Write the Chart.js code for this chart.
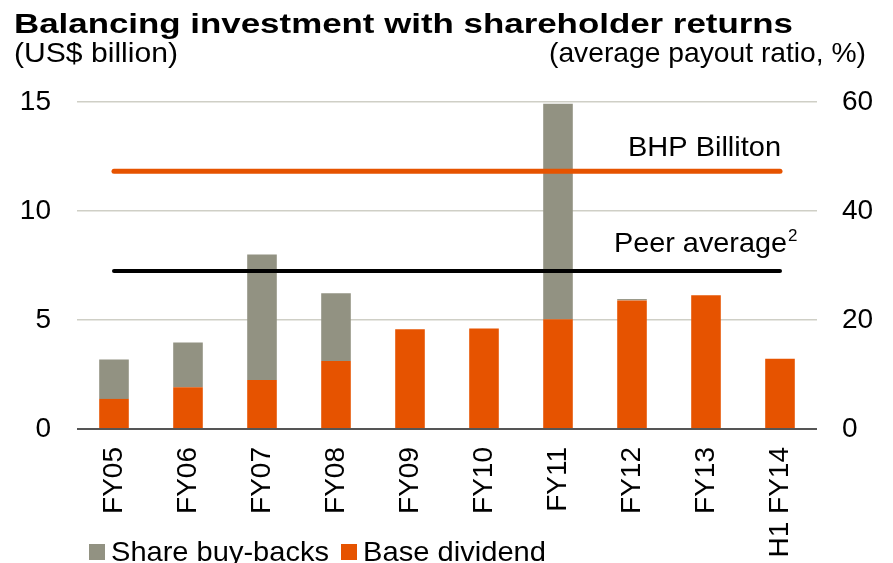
<!DOCTYPE html>
<html>
<head>
<meta charset="utf-8">
<script src="https://cdn.jsdelivr.net/npm/chart.js@4.4.1/dist/chart.umd.min.js"></script>
<style>
  html, body { margin: 0; padding: 0; background: #fff; }
  #wrap { width: 893px; height: 563px; position: relative; }
</style>
</head>
<body>
<div id="wrap"><canvas id="chart" width="893" height="563"></canvas></div>
<script>
// data
const categories = ['FY05', 'FY06', 'FY07', 'FY08', 'FY09', 'FY10', 'FY11', 'FY12', 'FY13', 'H1 FY14'];
const baseDividend = [1.38, 1.92, 2.25, 3.12, 4.57, 4.61, 5.04, 5.90, 6.14, 3.22];
const buyBacks = [1.81, 2.05, 5.76, 3.11, 0, 0, 9.88, 0.06, 0, 0];
const bhpPayout = [47.3, 47.3, 47.3, 47.3, 47.3, 47.3, 47.3, 47.3, 47.3, 47.3];
const peerPayout = [29.0, 29.0, 29.0, 29.0, 29.0, 29.0, 29.0, 29.0, 29.0, 29.0];
const leftTicks = [0, 5, 10, 15];
const rightTicks = [0, 20, 40, 60];

const ORANGE = '#e65300';
const GREY = '#929282';
const FONT = '"Liberation Sans", Arial, sans-serif';

// the source picture is a little stretched sideways, so texts are squeezed to its widths
function fitText(ctx, text, x, y, width, align) {
    const w = ctx.measureText(text).width;
    const sx = width / w;
    ctx.save();
    ctx.translate(align === 'right' ? x - width : x, y);
    ctx.scale(sx, 1);
    ctx.textAlign = 'left';
    ctx.fillText(text, 0, 0);
    ctx.restore();
}

// title, unit captions, line labels and legend
const textPlugin = {
    id: 'texts',
    afterDraw(chart) {
        const ctx = chart.ctx;
        const x = chart.scales.x;
        const y2 = chart.scales.y2;
        ctx.save();
        ctx.fillStyle = '#000';
        ctx.textBaseline = 'alphabetic';

        ctx.font = 'bold 27px ' + FONT;
        fitText(ctx, 'Balancing investment with shareholder returns', 14, 33, 779, 'left');

        ctx.font = '28px ' + FONT;
        fitText(ctx, '(US$ billion)', 14, 62, 164, 'left');
        fitText(ctx, '(average payout ratio, %)', 866, 62, 317, 'right');

        // labels above the payout lines
        const xEnd = x.getPixelForValue(categories.length - 1);
        fitText(ctx, 'BHP Billiton', xEnd + 1, y2.getPixelForValue(bhpPayout[0]) - 15, 153, 'right');
        const peerY = y2.getPixelForValue(peerPayout[0]) - 19;
        ctx.font = '17px ' + FONT;
        ctx.textAlign = 'left';
        ctx.fillText('2', xEnd + 8, peerY - 11);
        ctx.font = '28px ' + FONT;
        fitText(ctx, 'Peer average', xEnd + 7, peerY, 173, 'right');

        // legend
        const items = [
            { label: 'Share buy-backs', color: GREY, x: 89, w: 218 },
            { label: 'Base dividend', color: ORANGE, x: 341, w: 183 }
        ];
        items.forEach(it => {
            ctx.fillStyle = it.color;
            ctx.fillRect(it.x, 544, 16, 16);
            ctx.fillStyle = '#000';
            fitText(ctx, it.label, it.x + 22, 561, it.w, 'left');
        });
        ctx.restore();
    }
};

const ctx = document.getElementById('chart').getContext('2d');
const chart = new Chart(ctx, {
    type: 'bar',
    data: {
        labels: categories,
        datasets: [
            {
                label: 'BHP Billiton',
                type: 'line',
                data: bhpPayout,
                yAxisID: 'y2',
                borderColor: ORANGE,
                borderWidth: 5,
                borderCapStyle: 'round',
                pointRadius: 0,
                order: 0
            },
            {
                label: 'Peer average',
                type: 'line',
                data: peerPayout,
                yAxisID: 'y2',
                borderColor: '#000',
                borderWidth: 4,
                borderCapStyle: 'round',
                pointRadius: 0,
                order: 0
            },
            {
                label: 'Base dividend',
                data: baseDividend,
                backgroundColor: ORANGE,
                yAxisID: 'y',
                stack: 's',
                barPercentage: 0.4,
                categoryPercentage: 1,
                order: 1
            },
            {
                label: 'Share buy-backs',
                data: buyBacks,
                backgroundColor: GREY,
                yAxisID: 'y',
                stack: 's',
                barPercentage: 0.4,
                categoryPercentage: 1,
                order: 1
            }
        ]
    },
    options: {
        responsive: false,
        animation: false,
        layout: { padding: { top: 102, left: 0, right: 0, bottom: 0 } },
        plugins: {
            legend: { display: false },
            tooltip: { enabled: false }
        },
        scales: {
            x: {
                stacked: true,
                grid: { display: false, drawTicks: false },
                border: { display: false },
                ticks: {
                    autoSkip: false,
                    minRotation: 90,
                    maxRotation: 90,
                    padding: 18,
                    color: '#000',
                    font: { family: FONT, size: 28 }
                },
                afterFit(scale) { scale.height = 134; }
            },
            y: {
                stacked: true,
                position: 'left',
                min: 0,
                max: 15,
                afterBuildTicks(scale) { scale.ticks = leftTicks.map(v => ({ value: v })); },
                grid: {
                    drawTicks: false,
                    color: c => c.tick.value === 0 ? '#555555' : '#cfcfc6',
                    lineWidth: c => c.tick.value === 0 ? 2 : 1.5
                },
                border: { display: false },
                ticks: {
                    padding: 26,
                    color: '#000',
                    font: { family: FONT, size: 28 }
                },
                afterFit(scale) { scale.width = 77; }
            },
            y2: {
                position: 'right',
                min: 0,
                max: 60,
                afterBuildTicks(scale) { scale.ticks = rightTicks.map(v => ({ value: v })); },
                grid: { display: false, drawTicks: false },
                border: { display: false },
                ticks: {
                    padding: 25,
                    color: '#000',
                    font: { family: FONT, size: 28 }
                },
                afterFit(scale) { scale.width = 76; }
            }
        }
    },
    plugins: [textPlugin]
});
</script>
</body>
</html>
